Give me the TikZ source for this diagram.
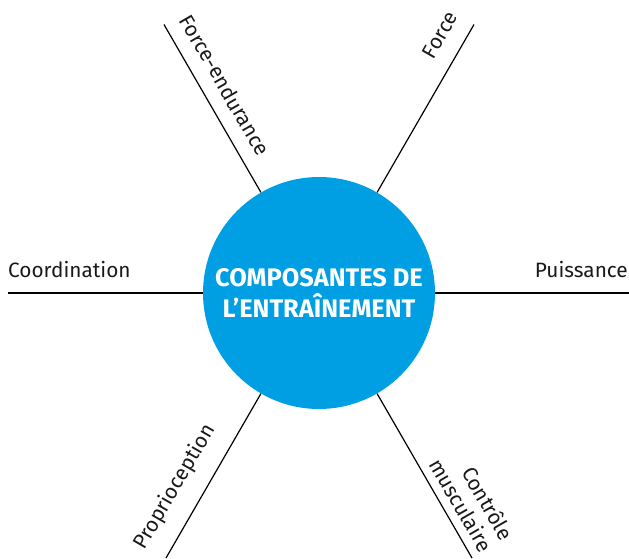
\documentclass[tikz,border=0pt]{standalone}
\usepackage{fontspec}
\setmainfont{Fira Sans}
\usetikzlibrary{calc}
\definecolor{cblue}{RGB}{0,159,227}
\begin{document}
\begin{tikzpicture}[x=1pt,y=1pt,
  lbl/.style={font=\fontsize{20.8}{24}\selectfont, inner sep=0pt, text=black!90},
  spoke/.style={line width=1.2pt, black}]
\useasboundingbox (0,0) rectangle (629,558);
\node[circle, fill=cblue, minimum size=232pt, inner sep=0pt, text=white,
      font=\bfseries\fontsize{25.4}{31}\selectfont, align=center] (c) at (319,265)
      {COMPOSANTES DE\\L’ENTRAÎNEMENT};
\coordinate (lft) at (8,265);
\coordinate (rgt) at (629,265);
\coordinate (fo) at ($(c.center)+(60:310)$);
\coordinate (fe) at ($(c.center)+(120:310)$);
\coordinate (pr) at ($(c.center)+(240:306)$);
\coordinate (cm) at ($(c.center)+(300:306)$);
\draw[spoke] (c) -- (lft);
\draw[spoke] (c) -- (rgt);
\draw[spoke] (c) -- (fo);
\draw[spoke] (c) -- (fe);
\draw[spoke] (c) -- (pr);
\draw[spoke] (c) -- (cm);
\node[lbl, anchor=base west] (tco) at (8,281) {Coordination};
\node[lbl, anchor=base east] (tpu) at (628,281) {Puissance};
\node[lbl, rotate=60] (tfo) at (440,523) {Force};
\node[lbl, rotate=-60] (tfe) at (225,473) {Force-endurance};
\node[lbl, rotate=60] (tpr) at (175,71) {Proprioception};
\node[lbl, rotate=-60, align=right] (tcm) at (472,59) {Contrôle\\musculaire};
\end{tikzpicture}
\end{document}
